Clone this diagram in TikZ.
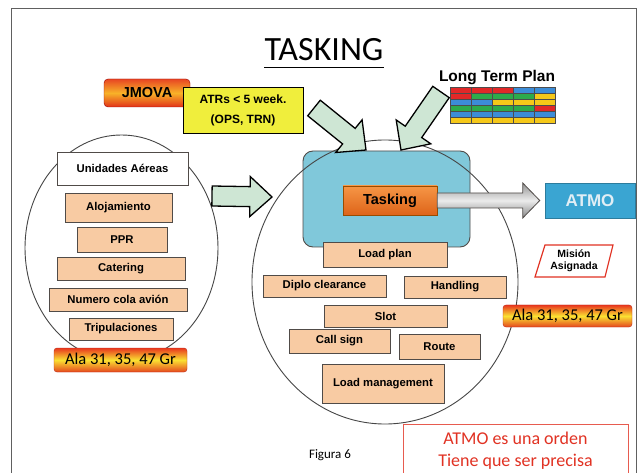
\documentclass[tikz,border=0pt]{standalone}
\usepackage{fontspec}
\setmainfont{Liberation Sans}
\newfontfamily\calfont{Carlito}
\usetikzlibrary{calc}
\definecolor{peach}{RGB}{248,203,163}
\definecolor{boxline}{RGB}{80,75,72}
\definecolor{ellline}{RGB}{70,70,70}
\definecolor{bluebox}{RGB}{128,200,218}
\definecolor{atmoblue}{RGB}{58,165,210}
\definecolor{garrowfill}{RGB}{206,230,212}
\definecolor{alared}{RGB}{232,55,30}
\definecolor{alared2}{RGB}{228,70,30}
\definecolor{alayellow}{RGB}{250,225,50}
\definecolor{yelbox}{RGB}{240,238,60}
\definecolor{misred}{RGB}{225,50,35}
\definecolor{ltpR}{RGB}{225,40,40}
\definecolor{ltpG}{RGB}{45,170,75}
\definecolor{ltpB}{RGB}{60,140,215}
\definecolor{ltpY}{RGB}{245,200,25}
\newcommand\blockarr[6][]{%
  \coordinate (ba-neck) at ($(#3)!#6!(#2)$);
  \draw[#1] ($(#2)!#4!90:(#3)$) -- ($(ba-neck)!#4!-90:(#2)$) -- ($(ba-neck)!#5!-90:(#2)$) -- (#3)
    -- ($(ba-neck)!#5!90:(#2)$) -- ($(ba-neck)!#4!90:(#2)$) -- ($(#2)!#4!-90:(#3)$) -- cycle;}
\begin{document}
\begin{tikzpicture}[x=1pt,y=-1pt,
  box/.style={draw=boxline, line width=0.9pt, inner sep=0pt, align=center,
    font=\bfseries\fontsize{11.3}{13}\selectfont},
  pbox/.style={box, fill=peach},
  alabox/.style={draw=alared!80!black, line width=0.4pt, rounded corners=3pt,
    top color=alared, bottom color=alared2, middle color=alayellow,
    inner sep=0pt, font=\calfont\fontsize{16.5}{18}\selectfont},
  ellipseline/.style={draw=ellline, line width=0.9pt},
  greenarrow/.style={fill=garrowfill, draw=black, line width=1.3pt, line join=miter},
  greyarrow/.style={draw=boxline, line width=0.8pt, top color=gray!85, bottom color=gray!95, middle color=gray!15}
]
\useasboundingbox (0,0) rectangle (643,473);
\fill[white] (0,0) rectangle (643,473);
% frame
\draw[gray!75!black, line width=1pt] (11,490) -- (11,9) -- (636,9) -- (636,490);
% title
\node[font=\calfont\fontsize{34}{38}\selectfont, inner sep=0pt] (title) at (324,50) {TASKING};
\coordinate (ul1) at ($(title.south west)+(0,6)$);
\coordinate (ul2) at ($(title.south east)+(0,6)$);
\draw[line width=1.6pt] (ul1) -- (ul2);

% left ellipse
\draw[ellipseline] (121.5,248) ellipse [x radius=96.5, y radius=113];
% blue box
\node[draw=boxline, line width=0.9pt, fill=bluebox, rounded corners=10pt, minimum width=167, minimum height=96] (blue) at (386.5,199) {};
% big circle
\draw[ellipseline] (385,282) ellipse [x radius=133, y radius=142];

% left boxes
\node[box, fill=white, minimum width=131, minimum height=33] (unid) at (122.5,168.5) {Unidades Aéreas};
\node[pbox, minimum width=107, minimum height=29] (aloj) at (118.5,207.5) {Alojamiento};
\node[pbox, minimum width=90, minimum height=25] (ppr) at (122,239.5) {PPR};
\node[pbox, minimum width=128, minimum height=23] (cat) at (121,268.5) {Catering};
\node[pbox, minimum width=138, minimum height=23] (num) at (118,299.5) {Numero cola avión};
\node[pbox, minimum width=104, minimum height=22] (trip) at (121,329) {Tripulaciones};
\node[alabox, minimum width=133, minimum height=24] (alaL) at (120.5,360) {Ala 31, 35, 47 Gr};

% centre boxes
\node[pbox, minimum width=124, minimum height=25] (lplan) at (385,254.5) {Load plan};
\node[pbox, minimum width=123, minimum height=22] (diplo) at (324.5,286) {Diplo clearance};
\node[pbox, minimum width=102, minimum height=22] (hand) at (455,287) {Handling};
\node[pbox, minimum width=123, minimum height=22] (slot) at (385.5,316) {Slot};
\node[pbox, minimum width=101, minimum height=24] (call) at (339.5,341) {Call sign};
\node[pbox, minimum width=81, minimum height=25] (route) at (439.5,346.5) {Route};
\node[pbox, minimum width=122, minimum height=39] (lman) at (383,383.5) {Load management};

% tasking & ATMO
\node[draw=orange!60!black, line width=0.6pt, top color={rgb,255:red,246;green,150;blue,70}, bottom color={rgb,255:red,222;green,100;blue,25},
  minimum width=94, minimum height=29, inner sep=0pt, font=\bfseries\fontsize{14.5}{16}\selectfont] (task) at (390,200.5) {Tasking};
\node[fill=atmoblue, draw=atmoblue!75!black, line width=0.5pt, minimum width=90, minimum height=35, inner sep=0pt,
  text={rgb,255:red,225;green,238;blue,245}, font=\bfseries\fontsize{17}{19}\selectfont] (atmo) at (590,200.5) {ATMO};
\coordinate (gtip) at ($(atmo.west)+(-5,0)$);
\blockarr[greyarrow]{task.east}{gtip}{7.5pt}{17.5pt}{17pt}

\node[alabox, minimum width=129, minimum height=22] (alaR) at (567.5,316) {Ala 31, 35, 47 Gr};
\node[inner sep=0pt, align=center, font=\bfseries\fontsize{10.5}{12.5}\selectfont] (mision) at (574,261) {Misión\\Asignada};
\draw[misred, line width=1.2pt] ($(mision)+(-29,-16)$) -- ($(mision)+(39,-16)$) -- ($(mision)+(31,16)$) -- ($(mision)+(-39,16)$) -- cycle;

% JMOVA and ATRs
\node[draw=red!60!black, line width=0.4pt, rounded corners=4pt, top color={rgb,255:red,232;green,70;blue,35},
  bottom color={rgb,255:red,225;green,50;blue,25}, middle color={rgb,255:red,248;green,178;blue,40},
  minimum width=86, minimum height=28, inner sep=0pt, font=\bfseries\fontsize{14.5}{16}\selectfont] (jmova) at (147,93) {JMOVA};
\node[draw=black, line width=0.9pt, fill=yelbox, minimum width=120, minimum height=46, inner sep=0pt, align=center,
  font=\bfseries\fontsize{12}{20}\selectfont] (atr) at (243,110) {ATRs < 5 week.\\(OPS, TRN)};

% green arrows
\coordinate (ga1s) at (314,108);
\coordinate (ga1e) at (366,150);
\coordinate (ga2s) at (441,92);
\coordinate (ga2e) at (401,150);
\coordinate (ga3s) at (212,196);
\coordinate (ga3e) at (272,197);
\blockarr[greenarrow]{ga1s}{ga1e}{10pt}{21pt}{22pt}
\blockarr[greenarrow]{ga2s}{ga2e}{10pt}{21pt}{22pt}
\blockarr[greenarrow]{ga3s}{ga3e}{10pt}{20pt}{22pt}

% Long term plan
\node[font=\bfseries\fontsize{15.5}{17}\selectfont, inner sep=0pt] (ltp) at (497,78) {Long Term Plan};
\foreach \row [count=\r from 0] in {{R,R,R,B,B},{R,G,G,G,Y},{B,B,Y,Y,Y},{G,G,G,G,R},{B,B,B,B,B},{Y,Y,Y,Y,Y}}{
  \foreach \c [count=\k from 0] in \row {
    \fill[ltp\c] (450+21*\k,87+6*\r) rectangle ++(21,6);
  }
}
\foreach \i in {1,...,5} \draw[gray!60!black, line width=0.4pt] (450,87+6*\i) -- (555,87+6*\i);
\foreach \i in {1,...,4} \draw[gray!60!black, line width=0.4pt] (450+21*\i,87) -- (450+21*\i,123);
\draw[gray!60!black, line width=0.6pt] (450,87) rectangle (555,123);

% footer
\node[font=\calfont\fontsize{13}{15}\selectfont, inner sep=0pt] (fig) at (330,455) {Figura 6};
\draw[misred!80!white, line width=0.7pt] (403,424) rectangle (628,490);
\node[text=misred, align=center, font=\calfont\fontsize{18}{22}\selectfont, inner sep=0pt] (note) at (515.5,451) {ATMO es una orden\\Tiene que ser precisa};
\end{tikzpicture}
\end{document}
